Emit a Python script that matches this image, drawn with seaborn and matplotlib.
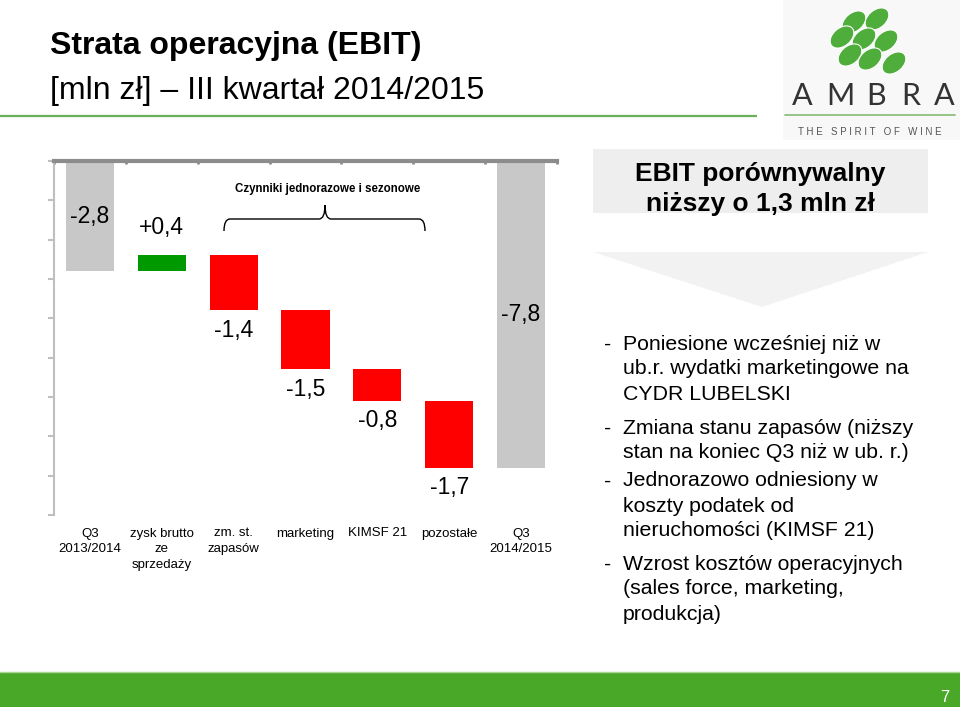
import matplotlib
matplotlib.use("Agg")
import matplotlib.pyplot as plt
import seaborn as sns
import pandas as pd
from matplotlib.patches import Rectangle, Ellipse, Polygon, PathPatch
from matplotlib.path import Path

# ---------------- data ----------------
categories = ["Q3\n2013/2014", "zysk brutto\nze\nsprzedaży", "zm. st.\nzapasów",
              "marketing", "KIMSF 21", "pozostałe", "Q3\n2014/2015"]
changes = [-2.8, 0.4, -1.4, -1.5, -0.8, -1.7, -7.8]
kinds = ["total", "inc", "dec", "dec", "dec", "dec", "total"]
value_labels = ["-2,8", "+0,4", "-1,4", "-1,5", "-0,8", "-1,7", "-7,8"]
palette = {"total": "#C8C8C8", "inc": "#009A00", "dec": "#FF0000"}

bullets = [
    "Poniesione wcześniej niż w\nub.r. wydatki marketingowe na\nCYDR LUBELSKI",
    "Zmiana stanu zapasów (niższy\nstan na koniec Q3 niż w ub. r.)",
    "Jednorazowo odniesiony w\nkoszty podatek od\nnieruchomości (KIMSF 21)",
    "Wzrost kosztów operacyjnych\n(sales force, marketing,\nprodukcja)",
]

# waterfall geometry derived from the data
bottoms, heights, ends = [], [], []
running = 0.0
for c, k in zip(changes, kinds):
    if k == "total":
        bottoms.append(0.0)
        heights.append(c)
        running = c
    else:
        bottoms.append(running)
        heights.append(c)
        running = running + c
    ends.append(running)

df = pd.DataFrame({"category": categories, "height": heights,
                   "bottom": bottoms, "kind": kinds})

# ---------------- style ----------------
sns.set_theme(style="white")
plt.rcParams["font.family"] = ["Liberation Sans", "DejaVu Sans"]

fig = plt.figure(figsize=(9.6, 7.07), dpi=100)
fig.patch.set_facecolor("white")

W, H = 960, 707
ax = fig.add_axes([54 / W, 1 - 515 / H, (557 - 54) / W, (515 - 161) / H], zorder=1)
ax.patch.set_alpha(0)

for i in range(len(df)):
    row = df.iloc[i]
    sns.barplot(data=df.iloc[[i]], x="category", y="height", order=categories,
                color=palette[row["kind"]], saturation=1, bottom=row["bottom"],
                width=0.67, errorbar=None, linewidth=0, ax=ax)

ax.set_xlim(-0.5, len(categories) - 0.5)
ax.set_ylim(-9, 0)
ax.set_yticks(range(-9, 1))
ax.set_yticklabels([])
ax.set_xlabel("")
ax.set_ylabel("")

# spines
for s in ["right", "bottom"]:
    ax.spines[s].set_visible(False)
ax.spines["left"].set_color("#BFBFBF")
ax.spines["left"].set_linewidth(1.5)
ax.spines["top"].set_color("#8C8C8C")
ax.spines["top"].set_linewidth(3)
ax.tick_params(axis="y", left=True, length=4, width=1.5, color="#BFBFBF", direction="out")
ax.tick_params(axis="x", which="major", bottom=False, top=False, length=0,
               labelsize=9.5, pad=9, labelcolor="#000000")
ax.set_xticks(range(len(categories)))
ax.set_xticklabels(categories, linespacing=1.4, va="top")
ax.set_xticks([i + 0.5 for i in range(-1, len(categories))], minor=True)
ax.tick_params(axis="x", which="minor", top=True, bottom=False, direction="in",
               length=2.5, width=2, color="#8C8C8C")

# value labels
for i, (k, e, b, lab) in enumerate(zip(kinds, ends, bottoms, value_labels)):
    if k == "total":
        y = e / 2
    elif k == "inc":
        y = e + 0.72
    else:
        y = e - 0.5
    ax.text(i, y, lab, ha="center", va="center", fontsize=16.5, color="#000000")

# ---------------- overlay (slide decorations) ----------------
ov = fig.add_axes([0, 0, 1, 1], zorder=5)
ov.set_xlim(0, W)
ov.set_ylim(H, 0)
ov.axis("off")
ov.patch.set_alpha(0)

# title
ov.text(50, 46, "Strata operacyjna (EBIT)", fontsize=23, fontweight="bold",
        ha="left", va="center", color="#000000")
ov.text(50, 91, "[mln zł] – III kwartał 2014/2015", fontsize=23,
        ha="left", va="center", color="#000000")
ov.plot([0, 757], [115.5, 115.5], color="#6AAF5A", lw=1.6, solid_capstyle="butt")

# logo
ov.add_patch(Rectangle((783, 0), 177, 140, facecolor="#F8F8F8", edgecolor="none"))
for cx, cy in [(854, 22), (877, 19), (842, 37), (864, 39), (886, 41),
               (850, 55), (870, 59), (894, 63)]:
    ov.add_patch(Ellipse((cx, cy), 27, 18, angle=-40, facecolor="#4FAE3B",
                         edgecolor="white", lw=0.8))
for lx, ch in zip([802, 840, 876, 911, 944], "AMBRA"):
    ov.text(lx, 96, ch, fontsize=22, ha="center", va="center", color="#333333",
            family=["Lato", "Liberation Sans"])
ov.plot([785, 955], [115, 115], color="#8DC07E", lw=1.3)
ov.text(870, 132, "T H E   S P I R I T   O F   W I N E", fontsize=7, ha="center",
        va="center", color="#555555")

# EBIT box
ov.add_patch(Rectangle((593, 149), 335, 64, facecolor="#EEEEEE", edgecolor="none"))
ov.text(760, 189, "EBIT porównywalny\nniższy o 1,3 mln zł", fontsize=19,
        fontweight="bold", ha="center", va="center", linespacing=1.32, color="#000000")

# arrow
ov.add_patch(Polygon([(593, 252), (928, 252), (762, 307)], closed=True,
                     facecolor="#F2F2F2", edgecolor="none"))

# bullets
bullet_tops = [334.5, 418.5, 471.5, 554.5]
for yt, txt in zip(bullet_tops, bullets):
    ov.text(604, yt, "-", fontsize=15.3, ha="left", va="top", color="#000000")
    ov.text(623, yt, txt, fontsize=15.3, ha="left", va="top", linespacing=1.4,
            color="#000000")

# brace
verts = [(224, 231), (224, 219), (230, 219),
         (319, 219),
         (325, 219), (325, 205),
         (325, 219), (331, 219),
         (419, 219),
         (425, 219), (425, 231)]
codes = [Path.MOVETO, Path.CURVE3, Path.CURVE3,
         Path.LINETO,
         Path.CURVE3, Path.CURVE3,
         Path.CURVE3, Path.CURVE3,
         Path.LINETO,
         Path.CURVE3, Path.CURVE3]
ov.add_patch(PathPatch(Path(verts, codes), facecolor="none", edgecolor="#000000", lw=1))
ov.text(328, 189, "Czynniki jednorazowe i sezonowe", fontsize=8.3, fontweight="bold",
        ha="center", va="center", color="#000000")

# footer
ov.add_patch(Rectangle((0, 672), W, 35, facecolor="#4AA829", edgecolor="none"))
ov.plot([0, W], [671.5, 671.5], color="#A8D596", lw=1)
ov.text(945, 697, "7", fontsize=12, color="white", ha="center", va="center")

fig.savefig("out.png", dpi=100, facecolor="white")
